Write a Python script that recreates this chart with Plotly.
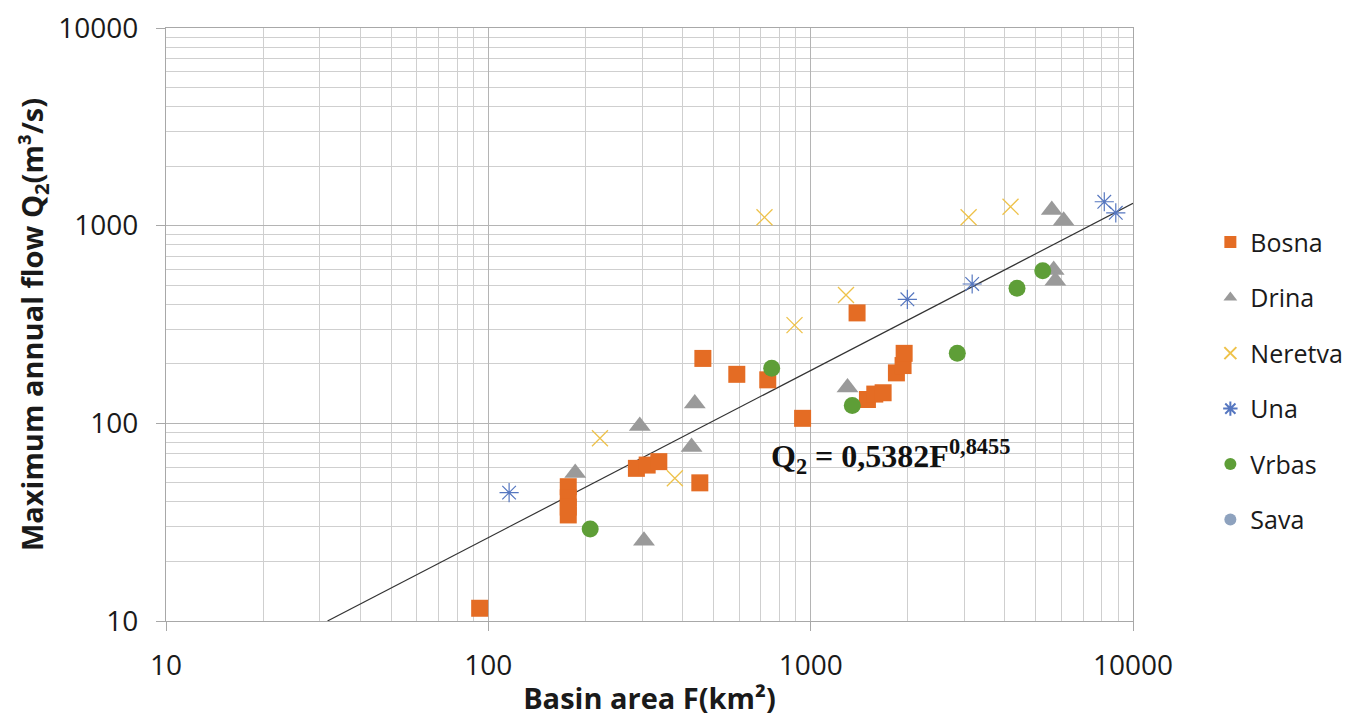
import numpy as np
import plotly.graph_objects as go

# ---- data ----
bosna_x = [94, 177, 177, 177, 177, 288, 311, 338, 453, 463, 590, 736, 944, 1393, 1500, 1581, 1678, 1845, 1935, 1950]
bosna_y = [11.6, 47.8, 42, 37.7, 34.4, 59.2, 61.5, 64, 50, 213, 177, 166, 106, 362, 132, 140.6, 142.8, 180, 196, 226]

drina_x = [186, 295, 304, 427, 437, 1301, 5598, 6093, 5675, 5742]
drina_y = [56, 97, 25.5, 76, 126, 152, 1200, 1059, 596, 526]

neretva_x = [222, 379, 719, 891, 1287, 3090, 4169]
neretva_y = [84, 52.7, 1102, 314, 446, 1102, 1247]

una_x = [116, 1995, 3170, 8145, 8843]
una_y = [44.6, 424, 507, 1321, 1162]

vrbas_x = [207, 757, 1346, 2850, 4367, 5248]
vrbas_y = [29.2, 190, 123, 226, 482, 591]

sava_x = [None]
sava_y = [None]

# power trend line Q2 = a * F^b
trend_a = 0.5382
trend_b = 0.8455
trend_x_range = [31.7, 10000]

x_major = [10, 100, 1000, 10000]
x_major_text = ["10", "100", "1000", "10000"]
y_major = [10, 100, 1000, 10000]
y_major_text = ["10", "100", "1000", "10000"]

# ---- figure ----
tx = np.array(trend_x_range, dtype=float)
ty = trend_a * tx ** trend_b

minor_vals = [m * 10 ** e for e in range(1, 4) for m in range(2, 10)]

fig = go.Figure()

fig.add_trace(go.Scatter(x=tx, y=ty, mode="lines", line=dict(color="#333333", width=1.2),
                         showlegend=False, hoverinfo="skip"))

fig.add_trace(go.Scatter(x=bosna_x, y=bosna_y, mode="markers", name="Bosna", legendgroup="a",
                         marker=dict(symbol="square", size=17, color="#E46C24")))
fig.add_trace(go.Scatter(x=drina_x, y=drina_y, mode="markers", name="Drina", legendgroup="b",
                         marker=dict(symbol="triangle-up", size=19, color="#9A9A9A")))
fig.add_trace(go.Scatter(x=neretva_x, y=neretva_y, mode="markers", name="Neretva", legendgroup="c",
                         marker=dict(symbol="x-thin-open", size=16, color="#EEC24A",
                                     line=dict(width=1.3, color="#EEC24A"))))
fig.add_trace(go.Scatter(x=una_x, y=una_y, mode="markers", name="Una", legendgroup="d",
                         marker=dict(symbol="asterisk-open", size=16, color="#5677C0",
                                     line=dict(width=1.2, color="#5677C0"))))
fig.add_trace(go.Scatter(x=vrbas_x, y=vrbas_y, mode="markers", name="Vrbas", legendgroup="e",
                         marker=dict(symbol="circle", size=17, color="#5E9E37")))
fig.add_trace(go.Scatter(x=sava_x, y=sava_y, mode="markers", name="Sava", legendgroup="f",
                         marker=dict(symbol="circle", size=17, color="#8EA2BE")))

fig.add_annotation(x=np.log10(745), y=np.log10(68), xref="x", yref="y", xanchor="left", yanchor="middle",
                   text="<b>Q<sub>2</sub> = 0,5382F<sup>0,8455</sup></b>", showarrow=False,
                   font=dict(family="Liberation Serif", size=32, color="#111111"))

axis_common = dict(
    type="log",
    tickmode="array",
    showgrid=True, gridcolor="#B4B4B4", gridwidth=1.2,
    showline=True, linecolor="#A8A8A8", linewidth=1.2, mirror=True,
    ticks="outside", ticklen=9, tickcolor="#A8A8A8",
    tickfont=dict(family="Open Sans", size=28, color="#1a1a1a"),
    ticklabeloverflow="allow",
    minor=dict(tickmode="array", tickvals=minor_vals, showgrid=True, gridcolor="#CFCFCF",
               gridwidth=1, ticks=""),
    zeroline=False,
)

fig.update_xaxes(**axis_common, tickvals=x_major, ticktext=x_major_text,
                 range=[1, 4], ticklabelstandoff=10,
                 title=dict(text="<b>Basin area F(km²)</b>", standoff=6,
                            font=dict(family="Open Sans", size=29, color="#1a1a1a")))
fig.update_yaxes(**axis_common, tickvals=y_major, ticktext=y_major_text,
                 range=[1, 4], ticklabelstandoff=12,
                 title=dict(text="<b>Maximum annual flow Q<sub>2</sub>(m³/s)</b>", standoff=6,
                            font=dict(family="Open Sans", size=29, color="#1a1a1a")))

fig.update_layout(
    width=1349, height=719,
    margin=dict(l=158, r=224, t=20, b=106, autoexpand=False),
    paper_bgcolor="white", plot_bgcolor="white",
    legend=dict(x=1.08, xanchor="left", y=0.405, yanchor="middle",
                font=dict(family="Open Sans", size=25, color="#1a1a1a"),
                tracegroupgap=20, itemsizing="constant"),
    font=dict(family="Open Sans"),
)

fig.write_html("out.html")
